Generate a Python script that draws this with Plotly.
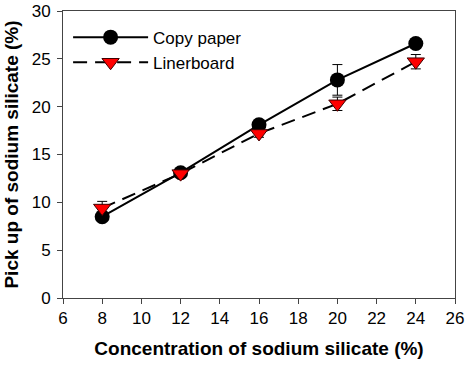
import plotly.graph_objects as go

conc = [8, 12, 16, 20, 24]
copy_paper = [8.5, 13.1, 18.1, 22.8, 26.6]
copy_err = [0.3, 0.3, 0.3, 1.6, 0.3]
linerboard = [9.4, 13.0, 17.2, 20.3, 24.7]
liner_err = [0.7, 0.3, 0.4, 0.7, 0.75]
x_ticks = [6, 8, 10, 12, 14, 16, 18, 20, 22, 24, 26]
y_ticks = [0, 5, 10, 15, 20, 25, 30]

fig = go.Figure()
fig.add_trace(go.Scatter(
    x=conc, y=copy_paper, name="Copy paper", mode="lines+markers",
    line=dict(color="black", width=2),
    marker=dict(symbol="circle", size=15, color="black"),
    error_y=dict(type="data", array=copy_err, color="black", thickness=1, width=5),
))
fig.add_trace(go.Scatter(
    x=conc, y=linerboard, name="Linerboard", mode="lines+markers",
    line=dict(color="black", width=2, dash="14px,8px"),
    marker=dict(symbol="triangle-down", size=15, color="red", line=dict(color="#400000", width=1)),
    error_y=dict(type="data", array=liner_err, color="black", thickness=1, width=5),
))

axis_common = dict(
    showgrid=False, zeroline=False, showline=True, linecolor="#444", linewidth=1,
    mirror=True, ticks="outside", ticklen=5, tickcolor="#444", automargin=False,
    tickfont=dict(family="Arial, Liberation Sans", size=17, color="black"),
)
fig.update_xaxes(range=[6, 26], tickvals=x_ticks, **axis_common,
                 title=dict(text="<b>Concentration of sodium silicate (%)</b>",
                            font=dict(family="Arial, Liberation Sans", size=19, color="black"), standoff=14))
fig.update_yaxes(range=[0, 30], tickvals=y_ticks, ticklabelstandoff=3, **axis_common,
                 title=dict(text="<b>Pick up of sodium silicate (%)</b>",
                            font=dict(family="Arial, Liberation Sans", size=19, color="black"), standoff=8))
fig.update_layout(
    width=467, height=365, plot_bgcolor="white", paper_bgcolor="white",
    margin=dict(l=63, r=12, t=11, b=67),
    legend=dict(x=0.013, y=0.97, xanchor="left", yanchor="top", bgcolor="rgba(0,0,0,0)",
                font=dict(family="Arial, Liberation Sans", size=17, color="black"),
                itemwidth=75, tracegroupgap=0),
    showlegend=True,
)
fig.write_html("out.html", config={"displayModeBar": False},
               post_script="document.body.style.margin='0px';")
